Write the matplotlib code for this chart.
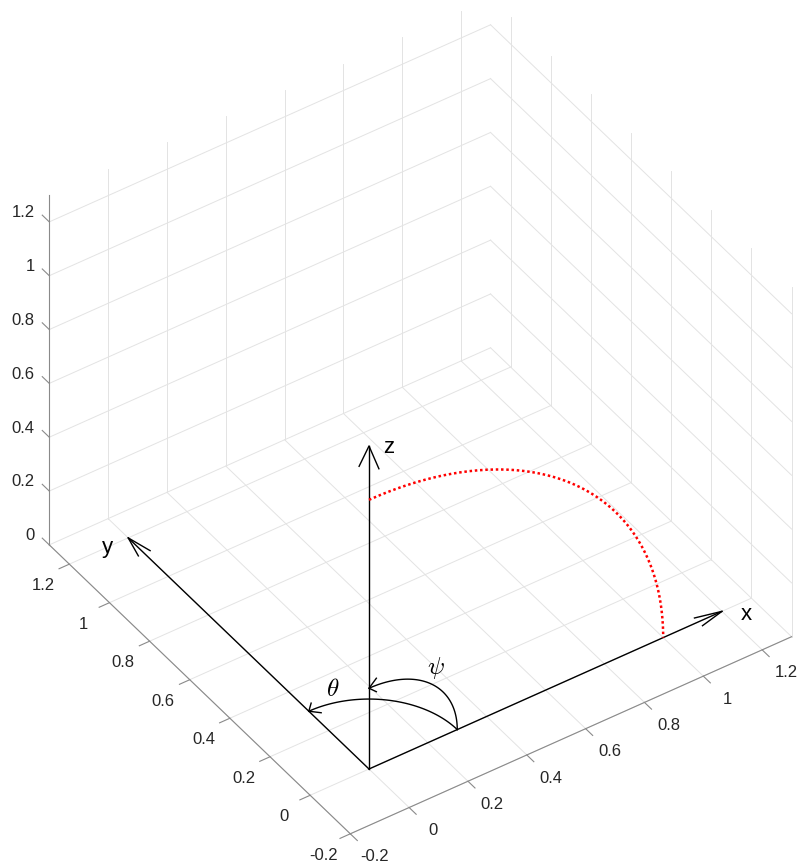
import numpy as np
import matplotlib
matplotlib.use('Agg')
import matplotlib.pyplot as plt
from mpl_toolkits.mplot3d import proj3d

plt.rcParams['font.family'] = ['Liberation Sans', 'DejaVu Sans']
plt.rcParams['mathtext.fontset'] = 'cm'

# limiti e tick degli assi (come nella figura MATLAB)
XLIM = (-0.2, 1.3)
YLIM = (-0.2, 1.3)
ZLIM = (0.0, 1.3)
TICKS_XY = [-0.2, 0, 0.2, 0.4, 0.6, 0.8, 1, 1.2]
TICKS_Z = [0, 0.2, 0.4, 0.6, 0.8, 1, 1.2]

# frecce degli assi
AXIS_LEN = 1.2
HEAD_LEN = 0.08
HEAD_W = 0.02

# archi degli angoli theta (piano xy) e psi (piano xz)
ANGLE_R = 0.3
ANGLE_SPAN = (0.0, 90.0)     # gradi
ARC_HEAD = 0.025

# quarto di cerchio rosso nel piano xz
RED_R = 1.0
RED_SPAN = (0.0, 90.0)       # gradi, da z verso x

# etichette (posizioni 3D)
LABELS = {
    'x': (1.25, -0.05, 0.0),
    'y': (-0.07, 1.2, 0.0),
    'z': (0.04, -0.04, 1.205),
}
THETA_POS = (0.11, 0.34, 0.0)
PSI_POS = (0.227, 0.0, 0.263)

# scostamento delle etichette dei tick dalla linea dell'asse
XLAB_OFF = 0.12
YLAB_OFF = (0.09, 0.036)
ZLAB_OFF = (0.012, 0.056)
TICK_LEN = 0.035

GRID_C = '#e3e3e3'
AX_C = '#8a8a8a'
TXT_C = '#262626'

# vista
ELEV, AZIM = 40.9, -124.3
ORIGIN_PX = (369, 769)       # dove cade l'origine nell'immagine
Z12_PX = 323                 # lunghezza a schermo di z = 0..1.2

W, H = 803, 868
fig = plt.figure(figsize=(W / 100, H / 100), dpi=100)
ax = fig.add_axes([0, 0, 1, 1], projection='3d', proj_type='ortho',
                  computed_zorder=False)
ax.set_axis_off()

x0, x1 = XLIM
y0, y1 = YLIM
z0, z1 = ZLIM
texts = []   # (posizione 3D, testo, kwargs): scritti in 2D alla fine

grid = dict(color=GRID_C, lw=0.7, zorder=1)
# griglia: pavimento e le due pareti di fondo
for t in TICKS_XY:
    ax.plot([t, t], [y0, y1], [z0, z0], **grid)
    ax.plot([x0, x1], [t, t], [z0, z0], **grid)
    ax.plot([t, t], [y1, y1], [z0, z1], **grid)
    ax.plot([x1, x1], [t, t], [z0, z1], **grid)
for t in TICKS_Z:
    ax.plot([x0, x1], [y1, y1], [t, t], **grid)
    ax.plot([x1, x1], [y0, y1], [t, t], **grid)

# linee degli assi con tick verso l'esterno
axl = dict(color=AX_C, lw=0.8, zorder=2)
ax.plot([x0, x1], [y0, y0], [z0, z0], **axl)
ax.plot([x0, x0], [y0, y1], [z0, z0], **axl)
ax.plot([x0, x0], [y1, y1], [z0, z1], **axl)
tk = dict(fontsize=12, color=TXT_C, va='center')
for t in TICKS_XY:
    ax.plot([t, t], [y0, y0 - TICK_LEN], [z0, z0], **axl)
    ax.plot([x0, x0 - TICK_LEN], [t, t], [z0, z0], **axl)
    texts.append(((t, y0 - XLAB_OFF, z0), f'{t:g}', dict(ha='center', **tk)))
    texts.append(((x0 - YLAB_OFF[0], t, z0 - YLAB_OFF[1]), f'{t:g}',
                  dict(ha='center', **tk)))
for t in TICKS_Z:
    ax.plot([x0, x0], [y1, y1 + TICK_LEN], [t, t], **axl)
    texts.append(((x0 - ZLAB_OFF[0], y1 + ZLAB_OFF[1], t), f'{t:g}',
                  dict(ha='right', **tk)))

# frecce x, y, z
e = np.eye(3)
side = {0: e[1], 1: e[0], 2: np.array([1.0, -1.0, 0.0])}
for i in range(3):
    tip = AXIS_LEN * e[i]
    ax.plot([0, tip[0]], [0, tip[1]], [0, tip[2]], color='k', lw=1.0, zorder=3)
    back = tip - HEAD_LEN * e[i]
    w1 = back + HEAD_W * side[i]
    w2 = back - HEAD_W * side[i]
    hx, hy, hz = np.array([w1, tip, w2]).T
    ax.plot(hx, hy, hz, color='k', lw=1.0, zorder=3)

for name, pos in LABELS.items():
    texts.append((pos, name, dict(fontsize=16, ha='center', va='center',
                                  color='k')))

# arco theta (da x a y, freccia su y)
t = np.radians(np.linspace(*ANGLE_SPAN, 60))
ax.plot(ANGLE_R * np.cos(t), ANGLE_R * np.sin(t), 0 * t, color='k', lw=1.0,
        zorder=3)
tip = np.array([0, ANGLE_R, 0])
hx, hy, hz = np.array([tip + [ARC_HEAD, ARC_HEAD, 0], tip,
                       tip + [ARC_HEAD, -ARC_HEAD, 0]]).T
ax.plot(hx, hy, hz, color='k', lw=1.0, zorder=3)

# arco psi (da x a z, freccia su z)
ax.plot(ANGLE_R * np.cos(t), 0 * t, ANGLE_R * np.sin(t), color='k', lw=1.0,
        zorder=3)
tip = np.array([0, 0, ANGLE_R])
hx, hy, hz = np.array([tip + [ARC_HEAD, 0, ARC_HEAD], tip,
                       tip + [ARC_HEAD, 0, -ARC_HEAD]]).T
ax.plot(hx, hy, hz, color='k', lw=1.0, zorder=3)

greek = dict(fontsize=18, ha='center', va='center', color='k')
texts.append((THETA_POS, r'$\theta$', greek))
texts.append((PSI_POS, r'$\psi$', greek))

# traiettoria rossa
s = np.radians(np.linspace(*RED_SPAN, 200))
ax.plot(RED_R * np.sin(s), 0 * s, RED_R * np.cos(s), color='red', lw=1.8,
        linestyle=(0, (1, 1.1)), zorder=3)

ax.set_xlim(*XLIM)
ax.set_ylim(*YLIM)
ax.set_zlim(*ZLIM)
ax.set_box_aspect((x1 - x0, y1 - y0, z1 - z0))
ax.view_init(elev=ELEV, azim=AZIM)


# posiziona gli assi in modo che origine e scala coincidano con l'originale
def to_px(p):
    xs, ys, _ = proj3d.proj_transform(*p, ax.get_proj())
    return ax.transData.transform((xs, ys))


for _ in range(3):
    fig.canvas.draw()
    p0 = to_px((0, 0, 0))
    p1 = to_px((0, 0, 1.2))
    f = Z12_PX / np.hypot(*(p1 - p0))
    bb = ax.get_position(original=False)
    cx = (bb.x0 + bb.width / 2) * W
    cy = (bb.y0 + bb.height / 2) * H
    side_px = bb.width * W * f
    tx, ty = ORIGIN_PX[0], H - ORIGIN_PX[1]
    ncx = tx - f * (p0[0] - cx)
    ncy = ty - f * (p0[1] - cy)
    ax.set_position([(ncx - side_px / 2) / W, (ncy - side_px / 2) / H,
                     side_px / W, side_px / H])

# testi: proiezione 3D -> coordinate della figura
fig.canvas.draw()
for pos, label, kw in texts:
    px, py = to_px(pos)
    fig.text(px / W, py / H, label, **kw)

fig.savefig('out.png', dpi=100)
